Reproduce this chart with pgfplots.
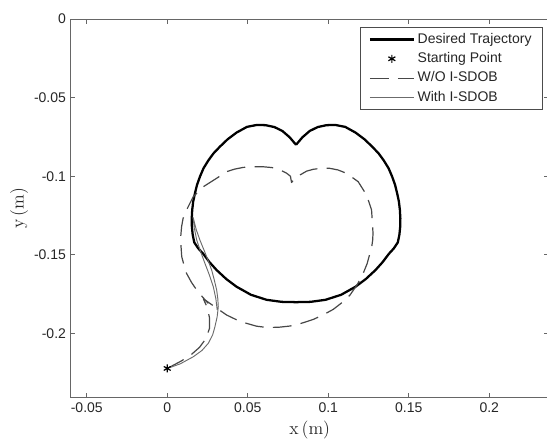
\documentclass[border=0pt]{standalone}
\usepackage{pgfplots}
\pgfplotsset{compat=1.18}
\usepackage{fontspec}
\setsansfont{Liberation Sans}
\begin{document}
\begin{tikzpicture}
\begin{axis}[
  scale only axis, width=358.6pt, height=283.9pt,
  xmin=-0.06, xmax=0.237, ymin=-0.241, ymax=0,
  scaled ticks=false,
  xtick={-0.05,0,0.05,0.1,0.15,0.2},
  xticklabels={-0.05,0,0.05,0.1,0.15,0.2},
  ytick={-0.2,-0.15,-0.1,-0.05,0},
  yticklabels={-0.2,-0.15,-0.1,-0.05,0},
  tick align=inside, major tick length=3.6pt,
  axis line style={color=black!60, line width=0.8pt},
  tick style={color=black!60, line width=0.6pt},
  tick label style={font=\sffamily\fontsize{10.5}{12}\selectfont, text=black!85},
  xlabel={x\,(m)}, ylabel={y\,(m)},
  label style={font=\fontsize{13.5}{15}\selectfont, text=black!85},
  xlabel style={at={(axis description cs:0.5,-0.0853)}, anchor=center},
  ylabel style={at={(axis description cs:-0.108,0.5)}, anchor=center},
  legend cell align=left,
  legend image code/.code={\draw[mark repeat=2,mark phase=2,#1] plot coordinates {(0pt,0pt) (16.5pt,0pt) (33pt,0pt)};},
  legend style={at={(0.987,0.980)}, anchor=north east, draw=black!70, line width=0.6pt,
    font=\sffamily\fontsize{10.5}{12}\selectfont, text=black!85,
    inner xsep=6pt, inner ysep=2pt, row sep=0pt,
    nodes={inner xsep=2pt, inner ysep=2pt, text height=8pt, text depth=2.5pt}},
]
\addplot[black, line width=1.7pt, line join=round] coordinates {
(0.0800,-0.0800) (0.0760,-0.0752) (0.0715,-0.0712) (0.0665,-0.0687) (0.0610,-0.0675)
(0.0555,-0.0674) (0.0495,-0.0686) (0.0431,-0.0722) (0.0375,-0.0765) (0.0327,-0.0812)
(0.0287,-0.0855) (0.0255,-0.0900) (0.0225,-0.0950) (0.0203,-0.1003) (0.0185,-0.1055)
(0.0172,-0.1109) (0.0161,-0.1162) (0.0155,-0.1215) (0.0152,-0.1270) (0.0153,-0.1322)
(0.0158,-0.1372) (0.0168,-0.1422) (0.0193,-0.1460) (0.0224,-0.1495) (0.0263,-0.1548)
(0.0307,-0.1598) (0.0367,-0.1655) (0.0431,-0.1704) (0.0520,-0.1755) (0.0617,-0.1787)
(0.0710,-0.1800) (0.0800,-0.1802) (0.0890,-0.1800) (0.0983,-0.1787) (0.1080,-0.1755)
(0.1169,-0.1704) (0.1233,-0.1655) (0.1293,-0.1598) (0.1337,-0.1548) (0.1376,-0.1495)
(0.1407,-0.1460) (0.1432,-0.1422) (0.1442,-0.1372) (0.1447,-0.1322) (0.1448,-0.1270)
(0.1445,-0.1215) (0.1439,-0.1162) (0.1428,-0.1109) (0.1415,-0.1055) (0.1397,-0.1003)
(0.1375,-0.0950) (0.1345,-0.0900) (0.1313,-0.0855) (0.1273,-0.0812) (0.1225,-0.0765)
(0.1169,-0.0722) (0.1105,-0.0686) (0.1045,-0.0674) (0.0990,-0.0675) (0.0935,-0.0687)
(0.0885,-0.0712) (0.0840,-0.0752) (0.0800,-0.0800)
};
\addlegendentry{Desired Trajectory}
\addlegendimage{only marks, mark=asterisk, mark size=3pt, black, line width=0.9pt}
\addlegendentry{Starting Point}
\addplot[black!72, line width=0.9pt, dash pattern=on 14pt off 7pt, line join=round] coordinates {
(0.0000,-0.2224) (0.0090,-0.2175) (0.0150,-0.2135) (0.0200,-0.2090) (0.0240,-0.2035)
(0.0262,-0.1970) (0.0262,-0.1900) (0.0248,-0.1835) (0.0224,-0.1780) (0.0300,-0.1835)
(0.0369,-0.1884) (0.0430,-0.1914) (0.0493,-0.1937) (0.0555,-0.1955) (0.0617,-0.1963)
(0.0690,-0.1962) (0.0762,-0.1954) (0.0835,-0.1936) (0.0907,-0.1912) (0.0970,-0.1882)
(0.1031,-0.1848) (0.1085,-0.1805) (0.1135,-0.1757) (0.1180,-0.1690) (0.1217,-0.1619)
(0.1242,-0.1555) (0.1259,-0.1491) (0.1270,-0.1450) (0.1276,-0.1407) (0.1278,-0.1365)
(0.1276,-0.1322) (0.1269,-0.1215) (0.1238,-0.1120) (0.1186,-0.1035) (0.1114,-0.0982)
(0.1060,-0.0960) (0.1010,-0.0950) (0.0955,-0.0950) (0.0907,-0.0956) (0.0865,-0.0968)
(0.0835,-0.0986) (0.0800,-0.1005) (0.0772,-0.1040) (0.0765,-0.1000) (0.0740,-0.0980)
(0.0700,-0.0960) (0.0650,-0.0945) (0.0596,-0.0940) (0.0535,-0.0940) (0.0472,-0.0944)
(0.0418,-0.0955) (0.0369,-0.0971) (0.0307,-0.1013) (0.0224,-0.1067) (0.0161,-0.1131)
(0.0120,-0.1215) (0.0098,-0.1270) (0.0089,-0.1322) (0.0084,-0.1380) (0.0085,-0.1440)
(0.0090,-0.1513) (0.0105,-0.1570) (0.0120,-0.1619) (0.0150,-0.1675) (0.0183,-0.1725)
(0.0220,-0.1770) (0.0255,-0.1810)
};
\addlegendentry{W/O I-SDOB}
\addplot[black!58, line width=0.7pt, line join=round] coordinates {
(0.0000,-0.2224) (0.0080,-0.2195) (0.0161,-0.2150) (0.0215,-0.2110) (0.0255,-0.2064)
(0.0282,-0.2010) (0.0296,-0.1959) (0.0310,-0.1895) (0.0317,-0.1831) (0.0314,-0.1780)
(0.0307,-0.1725) (0.0292,-0.1660) (0.0276,-0.1598) (0.0255,-0.1540) (0.0232,-0.1480)
(0.0203,-0.1407) (0.0180,-0.1340) (0.0160,-0.1260) (0.0168,-0.1330) (0.0183,-0.1407)
(0.0207,-0.1480) (0.0234,-0.1555) (0.0262,-0.1630) (0.0286,-0.1704) (0.0302,-0.1780)
(0.0310,-0.1850)
};
\addlegendentry{With I-SDOB}
\addplot[only marks, mark=asterisk, mark size=3pt, black, line width=0.9pt, forget plot] coordinates {(0,-0.2224)};
\end{axis}
\pgfresetboundingbox
\path[use as bounding box] (current axis.south west) ++(-53pt,-31pt) rectangle ++(410.25pt,329.25pt);
\end{tikzpicture}
\end{document}
